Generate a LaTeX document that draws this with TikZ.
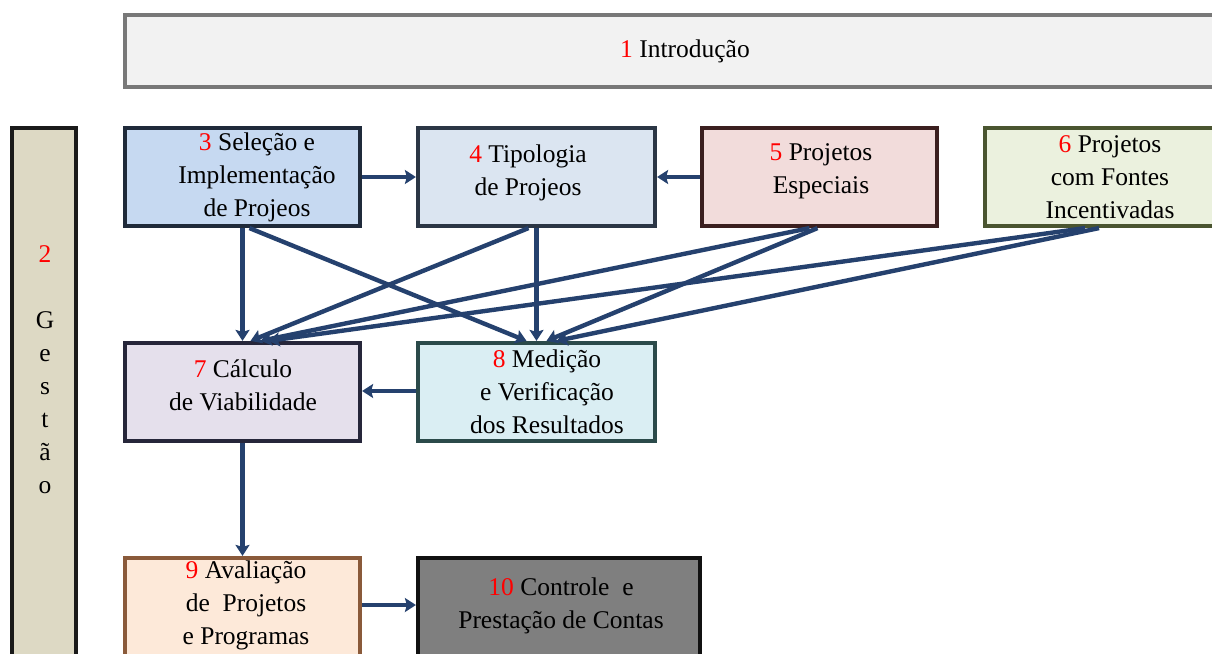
\documentclass[tikz,border=0pt]{standalone}
\usepackage{fontspec}
\setmainfont{Liberation Serif}
\usetikzlibrary{arrows.meta}
\definecolor{arrowblue}{HTML}{25416E}
\definecolor{num}{HTML}{FF0000}
\tikzset{
  box/.style={rectangle, line width=4.2pt, inner sep=0pt},
  label/.style={align=center, inner sep=0pt, text=black,
    font=\fontsize{25.5}{33}\selectfont},
  link/.style={draw=arrowblue, line width=4.4pt,
    -{Stealth[length=11pt,width=14pt,inset=2pt]}, shorten >=0pt},
}
\newcommand{\nr}[1]{{\color{num}#1}}
\begin{document}
\begin{tikzpicture}[x=1pt,y=-1pt]
\clip (0,0) rectangle (1212,653);
\fill[white] (0,0) rectangle (1212,653);

% header band
\node[box, draw={rgb,255:red,120;green,120;blue,120}, fill={rgb,255:red,242;green,242;blue,242},
  minimum width=1110pt, minimum height=72pt] (intro) at (680,51) {};
\node[label] (introtext) at (685,51) {\nr{1} Introdução};

% side band
\node[box, draw={rgb,255:red,26;green,26;blue,26}, fill={rgb,255:red,221;green,217;blue,196},
  minimum width=64pt, minimum height=540pt] (gestao) at (44,398) {};
\node[label] (gtext) at (45,370) {\nr{2}\\ \\G\\e\\s\\t\\ã\\o};

% first row
\node[box, draw={rgb,255:red,31;green,42;blue,58}, fill={rgb,255:red,198;green,217;blue,241},
  minimum width=235pt, minimum height=98pt] (b3) at (242.5,177) {};
\node[label] (t3) at (257,177) {\nr{3} Seleção e\\Implementação\\de Projeos};

\node[box, draw={rgb,255:red,43;green,54;blue,69}, fill={rgb,255:red,219;green,229;blue,241},
  minimum width=237pt, minimum height=98pt] (b4) at (536.5,177) {};
\node[label] (t4) at (528,173) {\nr{4} Tipologia\\de Projeos};

\node[box, draw={rgb,255:red,59;green,31;blue,31}, fill={rgb,255:red,242;green,220;blue,219},
  minimum width=235pt, minimum height=98pt] (b5) at (819.5,177) {};
\node[label] (t5) at (821,171) {\nr{5} Projetos\\Especiais};

\node[box, draw={rgb,255:red,74;green,85;blue,48}, fill={rgb,255:red,235;green,241;blue,222},
  minimum width=240pt, minimum height=98pt] (b6) at (1105,177) {};
\node[label] (t6) at (1110,177) {\nr{6} Projetos\\com Fontes\\Incentivadas};

% second row
\node[box, draw={rgb,255:red,38;green,38;blue,58}, fill={rgb,255:red,229;green,224;blue,236},
  minimum width=235pt, minimum height=98pt] (b7) at (242.5,392) {};
\node[label] (t7) at (243,385) {\nr{7} Cálculo\\de Viabilidade};

\node[box, draw={rgb,255:red,43;green,74;blue,74}, fill={rgb,255:red,218;green,238;blue,243},
  minimum width=237pt, minimum height=98pt] (b8) at (536.5,392) {};
\node[label] (t8) at (547,392) {\nr{8} Medição\\e Verificação\\dos Resultados};

% third row
\node[box, draw={rgb,255:red,138;green,90;blue,58}, fill={rgb,255:red,253;green,233;blue,217},
  minimum width=235pt, minimum height=110pt] (b9) at (242.5,613) {};
\node[label] (t9) at (246,605) {\nr{9} Avaliação\\de\ \ Projetos\\e Programas};

\node[box, draw={rgb,255:red,17;green,17;blue,17}, fill={rgb,255:red,127;green,127;blue,127},
  minimum width=282pt, minimum height=110pt] (b10) at (559,613) {};
\node[label] (t10) at (561,606) {\nr{10} Controle\ \ e\\Prestação de Contas};

% horizontal links
\draw[link] (b3.east) -- (b4.west);
\draw[link] (b5.west) -- (b4.east);
\draw[link] ([yshift=1pt]b8.west) -- ([yshift=1pt]b7.east);
\draw[link] ([yshift=8pt]b9.east) -- ([yshift=8pt]b10.west);

% vertical links
\draw[link] (b3.south) -- (b7.north);
\draw[link] (b4.south) -- (b8.north);
\draw[link] (b7.south) -- (b9.north);

% crossing links into 7 and 8
\draw[link] ([xshift=7pt]b3.south) -- ([xshift=-10pt]b8.north);
\draw[link] ([xshift=-8pt]b4.south) -- ([xshift=8pt]b7.north);
\draw[link] ([xshift=-10pt]b5.south) -- ([xshift=18pt]b7.north);
\draw[link] ([xshift=-2pt]b5.south) -- ([xshift=10pt]b8.north);
\draw[link] ([xshift=-20pt]b6.south) -- ([xshift=26pt]b7.north);
\draw[link] ([xshift=-6pt]b6.south) -- ([xshift=20pt]b8.north);
\end{tikzpicture}
\end{document}
